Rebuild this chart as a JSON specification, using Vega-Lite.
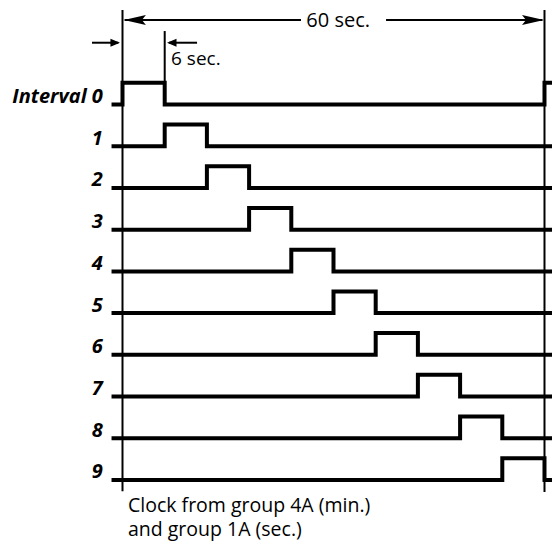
{
  "$schema": "https://vega.github.io/schema/vega-lite/v6.json",
  "width": 552,
  "height": 541,
  "padding": 0,
  "autosize": {"type": "fit", "contains": "padding"},
  "background": "white",
  "config": {"view": {"stroke": null}},
  "datasets": {
    "waves": [
      {"interval": 0, "t": -1.56, "y": 0}, {"interval": 0, "t": 0, "y": -0.52}, {"interval": 0, "t": 6, "y": 0}, {"interval": 0, "t": 60, "y": -0.52}, {"interval": 0, "t": 61.2, "y": -0.52},
      {"interval": 1, "t": -1.56, "y": 1}, {"interval": 1, "t": 6, "y": 0.48}, {"interval": 1, "t": 12, "y": 1}, {"interval": 1, "t": 61.2, "y": 1},
      {"interval": 2, "t": -1.56, "y": 2}, {"interval": 2, "t": 12, "y": 1.48}, {"interval": 2, "t": 18, "y": 2}, {"interval": 2, "t": 61.2, "y": 2},
      {"interval": 3, "t": -1.56, "y": 3}, {"interval": 3, "t": 18, "y": 2.48}, {"interval": 3, "t": 24, "y": 3}, {"interval": 3, "t": 61.2, "y": 3},
      {"interval": 4, "t": -1.56, "y": 4}, {"interval": 4, "t": 24, "y": 3.48}, {"interval": 4, "t": 30, "y": 4}, {"interval": 4, "t": 61.2, "y": 4},
      {"interval": 5, "t": -1.56, "y": 5}, {"interval": 5, "t": 30, "y": 4.48}, {"interval": 5, "t": 36, "y": 5}, {"interval": 5, "t": 61.2, "y": 5},
      {"interval": 6, "t": -1.56, "y": 6}, {"interval": 6, "t": 36, "y": 5.48}, {"interval": 6, "t": 42, "y": 6}, {"interval": 6, "t": 61.2, "y": 6},
      {"interval": 7, "t": -1.56, "y": 7}, {"interval": 7, "t": 42, "y": 6.48}, {"interval": 7, "t": 48, "y": 7}, {"interval": 7, "t": 61.2, "y": 7},
      {"interval": 8, "t": -1.56, "y": 8}, {"interval": 8, "t": 48, "y": 7.48}, {"interval": 8, "t": 54, "y": 8}, {"interval": 8, "t": 61.2, "y": 8},
      {"interval": 9, "t": -1.56, "y": 9}, {"interval": 9, "t": 54, "y": 8.48}, {"interval": 9, "t": 60, "y": 9}, {"interval": 9, "t": 61.2, "y": 9}
    ],
    "vlines": [
      {"t": 0, "y1": -2.265, "y2": 9.27},
      {"t": 60, "y1": -2.265, "y2": 9.29},
      {"t": 6, "y1": -1.761, "y2": -0.52}
    ],
    "hlines": [
      {"t1": 0.3, "t2": 25.38, "y": -2.025},
      {"t1": 37.47, "t2": 59.7, "y": -2.025},
      {"t1": -4.34, "t2": -0.6, "y": -1.481},
      {"t1": 6.6, "t2": 10.6, "y": -1.481}
    ],
    "heads": [
      {"head": "bigL", "t": 0.2, "y": -2.025},
      {"head": "bigR", "t": 59.93, "y": -2.025},
      {"head": "smallR", "t": -0.36, "y": -1.481},
      {"head": "smallL", "t": 6.33, "y": -1.481}
    ],
    "rowlabels": [
      {"label": "Interval 0", "row": 0, "t": -2.8}, {"label": "1", "row": 1, "t": -2.8}, {"label": "2", "row": 2, "t": -2.8},
      {"label": "3", "row": 3, "t": -2.8}, {"label": "4", "row": 4, "t": -2.8}, {"label": "5", "row": 5, "t": -2.8},
      {"label": "6", "row": 6, "t": -2.8}, {"label": "7", "row": 7, "t": -2.8}, {"label": "8", "row": 8, "t": -2.8}, {"label": "9", "row": 9, "t": -2.8}
    ],
    "topnotes": [
      {"text": "60 sec.", "t": 26.14, "y": -1.865}
    ],
    "pulsenote": [
      {"text": "6 sec.", "t": 6.9, "y": -0.947}
    ],
    "caption": [
      {"text": "Clock from group 4A (min.)", "t": 0.78, "y": 9.775},
      {"text": "and group 1A (sec.)", "t": 0.78, "y": 10.338}
    ]
  },
  "layer": [
    {
      "data": {"name": "vlines"},
      "mark": {"type": "rule", "color": "black", "strokeWidth": 2},
      "encoding": {
        "x": {"field": "t", "type": "quantitative", "axis": null, "scale": {"domain": [-17.417, 61.067], "nice": false, "zero": false}},
        "y": {"field": "y1", "type": "quantitative", "axis": null, "scale": {"domain": [-2.505, 10.463], "reverse": true, "nice": false, "zero": false}},
        "y2": {"field": "y2"}
      }
    },
    {
      "data": {"name": "hlines"},
      "mark": {"type": "rule", "color": "black", "strokeWidth": 2},
      "encoding": {
        "x": {"field": "t1", "type": "quantitative", "axis": null},
        "x2": {"field": "t2"},
        "y": {"field": "y", "type": "quantitative", "axis": null}
      }
    },
    {
      "data": {"name": "heads"},
      "mark": {"type": "point", "filled": true, "color": "black", "opacity": 1, "size": 100, "strokeWidth": 0},
      "encoding": {
        "x": {"field": "t", "type": "quantitative", "axis": null},
        "y": {"field": "y", "type": "quantitative", "axis": null},
        "shape": {"field": "head", "type": "nominal", "legend": null,
          "scale": {"domain": ["bigL", "bigR", "smallL", "smallR"],
            "range": ["M0,0 L4.4,-1 L3.6,0 L4.4,1 Z", "M0,0 L-4.4,-1 L-3.6,0 L-4.4,1 Z", "M0,0 L1.9,-0.8 L1.9,0.8 Z", "M0,0 L-1.9,-0.8 L-1.9,0.8 Z"]}}
      }
    },
    {
      "data": {"name": "waves"},
      "mark": {"type": "line", "color": "black", "strokeWidth": 4, "interpolate": "step-after", "strokeJoin": "miter", "clip": true},
      "encoding": {
        "x": {"field": "t", "type": "quantitative", "axis": null},
        "y": {"field": "y", "type": "quantitative", "axis": null},
        "detail": {"field": "interval", "type": "nominal"}
      }
    },
    {
      "data": {"name": "rowlabels"},
      "mark": {"type": "text", "align": "right", "baseline": "alphabetic", "dy": -1.5, "font": "Open Sans", "fontWeight": "bold", "fontStyle": "italic", "fontSize": 20, "color": "black"},
      "encoding": {
        "x": {"field": "t", "type": "quantitative", "axis": null},
        "y": {"field": "row", "type": "quantitative", "axis": null},
        "text": {"field": "label"}
      }
    },
    {
      "data": {"name": "topnotes"},
      "mark": {"type": "text", "align": "left", "baseline": "alphabetic", "font": "Open Sans", "fontSize": 20, "color": "black"},
      "encoding": {
        "x": {"field": "t", "type": "quantitative", "axis": null},
        "y": {"field": "y", "type": "quantitative", "axis": null},
        "text": {"field": "text"}
      }
    },
    {
      "data": {"name": "pulsenote"},
      "mark": {"type": "text", "align": "left", "baseline": "alphabetic", "font": "Open Sans", "fontSize": 19, "color": "black"},
      "encoding": {
        "x": {"field": "t", "type": "quantitative", "axis": null},
        "y": {"field": "y", "type": "quantitative", "axis": null},
        "text": {"field": "text"}
      }
    },
    {
      "data": {"name": "caption"},
      "mark": {"type": "text", "align": "left", "baseline": "alphabetic", "font": "Open Sans", "fontSize": 19.5, "color": "black"},
      "encoding": {
        "x": {"field": "t", "type": "quantitative", "axis": null},
        "y": {"field": "y", "type": "quantitative", "axis": null},
        "text": {"field": "text"}
      }
    }
  ]
}
